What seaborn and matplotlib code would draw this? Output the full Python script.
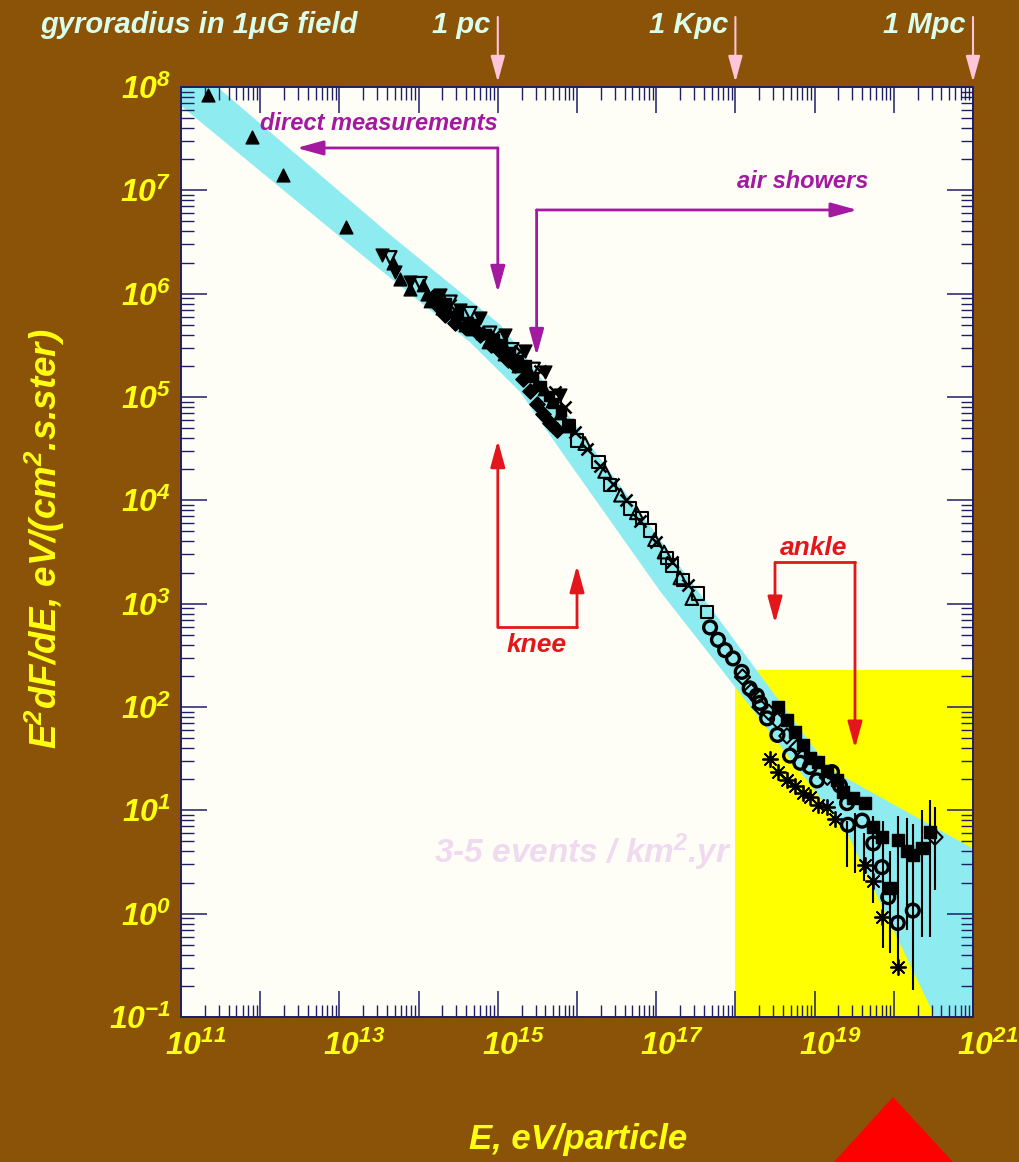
import numpy as np
import matplotlib
matplotlib.use("Agg")
import matplotlib.pyplot as plt
import seaborn as sns
from matplotlib import transforms
from matplotlib.patches import Polygon
from matplotlib.ticker import FixedLocator, LogLocator, NullFormatter, FuncFormatter

# ------------------------------------------------------------------
# Cosmic-ray all-particle spectrum.
# Every value is log10(E / eV) and log10(E^2 dF/dE / eV cm^-2 s^-1 sr^-1)
# ------------------------------------------------------------------
tri_up_logE = [11.34, 11.90, 12.29, 13.08, 13.68, 13.77, 13.89, 14.10, 14.30]
tri_up_logF = [7.92, 7.52, 7.15, 6.65, 6.30, 6.14, 6.05, 6.00, 5.86]

tri_down_logE = [13.54, 13.70, 13.89, 14.27, 14.52, 14.78, 15.09, 15.34, 15.60, 15.79]
tri_down_logF = [6.37, 6.21, 6.11, 5.99, 5.84, 5.76, 5.60, 5.45, 5.24, 5.02]

tri_down_open_logE = [13.64, 14.02, 14.40, 14.65, 14.90, 15.18, 15.45]
tri_down_open_logF = [6.35, 6.10, 5.92, 5.81, 5.62, 5.46, 5.27]

diamond_logE = [14.18, 14.23, 14.33, 14.46, 14.59, 14.78, 14.92, 15.03, 15.13,
                15.22, 15.32, 15.41, 15.50, 15.57, 15.66, 15.75]
diamond_logF = [5.97, 5.89, 5.79, 5.72, 5.68, 5.60, 5.50, 5.45, 5.36,
                5.31, 5.17, 5.06, 4.93, 4.84, 4.75, 4.68]

block_logE = [14.35, 14.50, 14.62, 14.70, 14.85, 14.95, 15.05, 15.15, 15.25,
              15.35, 15.45, 15.55, 15.65, 15.70, 15.80, 15.90]
block_logF = [5.91, 5.81, 5.73, 5.71, 5.61, 5.56, 5.51, 5.44, 5.36,
              5.31, 5.19, 5.11, 5.01, 4.94, 4.86, 4.74]

knee_up_logE = [14.05, 14.15, 14.25, 14.38, 14.48, 14.58, 14.68, 14.80, 14.88, 14.98,
                15.08, 15.18, 15.26, 15.38, 15.48, 15.58, 15.68, 15.78, 15.88]
knee_up_logF = [6.08, 5.93, 5.95, 5.82, 5.80, 5.70, 5.66, 5.62, 5.53, 5.52,
                5.42, 5.40, 5.30, 5.27, 5.13, 5.08, 4.96, 4.85, 4.72]

cross_logE = [14.40, 14.71, 14.96, 15.28, 15.53, 15.72, 15.85, 15.97, 16.12,
              16.29, 16.45, 16.62, 16.80, 17.00, 17.20, 17.40]
cross_logF = [5.89, 5.72, 5.60, 5.45, 5.25, 5.05, 4.90, 4.66, 4.50,
              4.33, 4.16, 4.00, 3.80, 3.60, 3.40, 3.18]

square_open_logE = [15.72, 15.90, 16.00, 16.27, 16.42, 16.67, 16.82, 16.92,
                    17.14, 17.20, 17.34, 17.53, 17.64]
square_open_logF = [4.97, 4.72, 4.58, 4.37, 4.15, 3.92, 3.83, 3.71,
                    3.44, 3.37, 3.23, 3.10, 2.92]

tri_up_open_logE = [16.10, 16.35, 16.55, 16.75, 16.98, 17.10, 17.30, 17.45]
tri_up_open_logF = [4.55, 4.28, 4.05, 3.88, 3.62, 3.50, 3.25, 3.05]

circle_logE = [17.68, 17.78, 17.87, 17.97, 18.08, 18.18, 18.27, 18.31, 18.40,
               18.53, 18.69, 18.82, 18.94, 19.03, 19.22, 19.32, 19.41, 19.42,
               19.60, 19.74, 19.85, 19.93, 20.05, 20.24]
circle_logF = [2.77, 2.65, 2.55, 2.47, 2.34, 2.18, 2.11, 2.04, 1.89,
               1.73, 1.53, 1.46, 1.42, 1.29, 1.37, 1.24, 1.07, 0.86,
               0.90, 0.68, 0.45, 0.16, -0.09, 0.03]

square_logE = [18.54, 18.65, 18.75, 18.85, 18.94, 19.04, 19.16, 19.28, 19.36,
               19.48, 19.64, 19.74, 19.85, 19.95, 20.05, 20.17, 20.24, 20.36, 20.46]
square_logF = [2.00, 1.87, 1.76, 1.63, 1.51, 1.47, 1.38, 1.29, 1.18,
               1.12, 1.07, 0.84, 0.74, 0.25, 0.71, 0.61, 0.57, 0.64, 0.79]

star_logE = [18.44, 18.54, 18.65, 18.75, 18.85, 18.94, 19.04, 19.16, 19.26,
             19.64, 19.74, 19.85, 20.05]
star_logF = [1.50, 1.37, 1.29, 1.24, 1.17, 1.13, 1.05, 1.03, 0.92,
             0.47, 0.32, -0.03, -0.52]

diamond_open_logE = [18.09, 18.20, 18.31, 18.42, 18.53, 18.65, 18.78, 19.16, 20.52]
diamond_open_logF = [2.29, 2.15, 2.00, 1.95, 1.87, 1.72, 1.61, 1.32, 0.74]

# error bars of the highest-energy points
err_logE = [19.41, 19.51, 19.62, 19.74, 19.86, 19.95, 20.05, 20.17, 20.24, 20.36, 20.46, 20.52]
err_hi = [0.90, 0.97, 0.78, 0.95, 0.90, 0.61, 0.95, 0.93, 0.87, 1.00, 1.10, 1.03]
err_lo = [0.45, 0.39, 0.32, 0.10, -0.33, -0.38, -0.53, -0.16, -0.74, -0.23, -0.23, 0.23]

# uncertainty band of the spectrum
band_upper_logE = [10.5, 11.46, 13.64, 15.03, 15.30, 16.20, 19.19, 21.0, 21.3]
band_upper_logF = [8.60, 8.00, 6.57, 5.70, 5.44, 4.50, 1.40, 0.63, 0.50]
band_lower_logE = [10.5, 10.95, 13.26, 14.65, 15.28, 15.85, 17.05, 18.02, 19.41,
                   20.24, 20.52, 20.9]
band_lower_logF = [8.15, 7.85, 6.39, 5.53, 5.05, 4.42, 3.12, 2.17, 0.78,
                   -0.55, -1.00, -1.70]

# region of 3-5 events per km^2 per year
rare_logE = [18.0, 21.0]
rare_top_logF = 2.36

# gyroradius of a proton in a 1 microgauss field
gyro_logE = [15, 18, 21]
gyro_labels = ["1 pc", "1 Kpc", "1 Mpc"]

# ------------------------------------------------------------------
BROWN = "#8A5308"
PLOT_BG = "#FEFEF7"
CYAN = "#8EEBF0"
YELLOW = "#FFFF00"
PURPLE = "#A3199F"
RED = "#E3161B"
PINK = "#FFC6DA"
MINT = "#D9FFEC"
FAINT = "#F0DAF0"
NAVY = "#1E1E66"
LABEL_YELLOW = "#FFFF10"

sns.set_theme(style="ticks")
FONT = "Liberation Sans"
plt.rcParams["font.family"] = [FONT, "DejaVu Sans"]
plt.rcParams["font.weight"] = "bold"
plt.rcParams["font.style"] = "italic"
plt.rcParams["axes.labelweight"] = "bold"
plt.rcParams["mathtext.fontset"] = "custom"
for key in ("rm", "it", "bf", "sf"):
    plt.rcParams[f"mathtext.{key}"] = f"{FONT}:italic:bold"

W, H = 1020, 1162
fig = plt.figure(figsize=(W / 100, H / 100), dpi=100, facecolor=BROWN)
ax = fig.add_axes([181 / W, 1 - 1017 / H, 792 / W, 930 / H])
ax.set_facecolor(PLOT_BG)
ax.set_xscale("log")
ax.set_yscale("log")
ax.set_xlim(1e11, 1e21)
ax.set_ylim(1e-1, 1e8)
ax.set_axisbelow(False)


def p10(v):
    return np.power(10.0, np.asarray(v, dtype=float))


# rare-event region and uncertainty band
ax.fill_between(p10(rare_logE), 1e-1, p10(rare_top_logF), color=YELLOW, lw=0, zorder=1.2)
band_x = np.concatenate([p10(band_upper_logE), p10(band_lower_logE)[::-1]])
band_y = np.concatenate([p10(band_upper_logF), p10(band_lower_logF)[::-1]])
ax.fill(band_x, band_y, color=CYAN, lw=0, zorder=1.5)

ax.text(p10(16.08), p10(0.59), r"3-5 events / km$^2$.yr", color=FAINT,
        fontsize=24, fontweight="bold", ha="center", va="center", zorder=1.8)


def scatter(logE, logF, marker, s, filled=True, lw=1.0):
    kw = dict(x=p10(logE), y=p10(logF), marker=marker, s=s, ax=ax,
              zorder=4, legend=False, linewidth=lw)
    if filled:
        kw.update(color="black", edgecolor="black")
    else:
        kw.update(facecolor="none", edgecolor="black")
    sns.scatterplot(**kw)


# error bars
ax.vlines(p10(err_logE), p10(err_lo), p10(err_hi), color="black", lw=1.5, zorder=3.5)

scatter(tri_up_logE, tri_up_logF, "^", 85)
scatter(tri_down_logE, tri_down_logF, "v", 85)
scatter(tri_down_open_logE, tri_down_open_logF, "v", 85, filled=False, lw=1.6)
scatter(knee_up_logE, knee_up_logF, "^", 80)
scatter(diamond_logE, diamond_logF, "D", 60)
scatter(block_logE, block_logF, "s", 55)
scatter(cross_logE, cross_logF, "x", 75, lw=1.8)
scatter(square_open_logE, square_open_logF, "s", 80, filled=False, lw=1.5)
scatter(tri_up_open_logE, tri_up_open_logF, "^", 85, filled=False, lw=1.5)
scatter(circle_logE, circle_logF, "o", 85, filled=False, lw=2.4)
scatter(square_logE, square_logF, "s", 70)
scatter(star_logE, star_logF, (8, 2, 0), 120, lw=1.3)
scatter(diamond_open_logE, diamond_open_logF, "D", 60, filled=False, lw=1.5)


# annotation arrows
def arrow(tail, tip, color, lw=2.0, target=None):
    ax.annotate("", xy=tip, xytext=tail, xycoords=target or "data",
                textcoords=target or "data",
                arrowprops=dict(arrowstyle="-|>,head_length=0.8,head_width=0.22",
                                color=color, lw=lw, shrinkA=0, shrinkB=0,
                                mutation_scale=20),
                annotation_clip=False, zorder=5)


# direct measurements
corner = (p10(15.0), p10(7.41))
arrow(corner, (p10(12.46), p10(7.41)), PURPLE)
arrow(corner, (p10(15.0), p10(6.01)), PURPLE)
ax.text(p10(12.0), p10(7.65), "direct measurements", color=PURPLE, fontsize=17,
        fontweight="bold", ha="left", va="center", zorder=5)

# air showers
corner = (p10(15.49), p10(6.81))
arrow(corner, (p10(19.54), p10(6.81)), PURPLE)
arrow(corner, (p10(15.49), p10(5.40)), PURPLE)
ax.text(p10(18.02), p10(7.09), "air showers", color=PURPLE, fontsize=17,
        fontweight="bold", ha="left", va="center", zorder=5)

# knee
ax.plot([p10(15.0), p10(16.0)], [p10(2.77), p10(2.77)], color=RED, lw=2.0, zorder=5)
arrow((p10(15.0), p10(2.77)), (p10(15.0), p10(4.58)), RED)
arrow((p10(16.0), p10(2.77)), (p10(16.0), p10(3.37)), RED)
ax.text(p10(15.49), p10(2.60), "knee", color=RED, fontsize=19, fontweight="bold",
        ha="center", va="center", zorder=5)

# ankle
ax.plot([p10(18.5), p10(19.51)], [p10(3.40), p10(3.40)], color=RED, lw=2.0, zorder=5)
arrow((p10(18.5), p10(3.40)), (p10(18.5), p10(2.81)), RED)
arrow((p10(19.51), p10(3.40)), (p10(19.51), p10(1.60)), RED)
ax.text(p10(18.99), p10(3.54), "ankle", color=RED, fontsize=19, fontweight="bold",
        ha="center", va="center", zorder=5)

# gyroradius scale above the frame
top = transforms.blended_transform_factory(ax.transData, fig.transFigure)
label_shift = transforms.ScaledTranslation(-0.07, 0, fig.dpi_scale_trans)
for le, lab in zip(gyro_logE, gyro_labels):
    arrow((p10(le), 1 - 17 / H), (p10(le), 1 - 82 / H), PINK, lw=1.5, target=top)
    fig.text(p10(le), 1 - 25 / H, lab, color=MINT, fontsize=21, fontweight="bold",
             ha="right", va="center", transform=top + label_shift)
fig.text(40 / W, 1 - 25 / H, "gyroradius in 1\u03bcG field", color=MINT, fontsize=21,
         fontweight="bold", ha="left", va="center")

# axes, ticks and labels
for sp in ax.spines.values():
    sp.set_color(NAVY)
    sp.set_linewidth(1.4)
    sp.set_zorder(6)

ax.xaxis.set_major_locator(FixedLocator(p10(np.arange(11, 22))))
ax.xaxis.set_minor_locator(LogLocator(base=10, subs=np.arange(2, 10), numticks=200))
ax.yaxis.set_major_locator(FixedLocator(p10(np.arange(-1, 9))))
ax.yaxis.set_minor_locator(LogLocator(base=10, subs=np.arange(2, 10), numticks=200))
ax.xaxis.set_minor_formatter(NullFormatter())
ax.yaxis.set_minor_formatter(NullFormatter())


def xfmt(v, pos):
    e = int(round(np.log10(v)))
    return f"$10^{{{e}}}$" if e % 2 == 1 else ""


def yfmt(v, pos):
    e = int(round(np.log10(v)))
    return f"$10^{{{e}}}$"


ax.xaxis.set_major_formatter(FuncFormatter(xfmt))
ax.yaxis.set_major_formatter(FuncFormatter(yfmt))
ax.tick_params(which="both", direction="in", top=True, right=True, color=NAVY,
               labelcolor=LABEL_YELLOW, zorder=6)
ax.tick_params(which="major", length=19, width=1.1, labelsize=23)
ax.tick_params(which="minor", length=9, width=1.0)
ax.tick_params(axis="x", which="major", pad=10)
ax.tick_params(axis="y", which="major", pad=7)

shift = transforms.ScaledTranslation(-0.16, 0, fig.dpi_scale_trans)
for lbl in ax.get_xticklabels():
    lbl.set_horizontalalignment("left")
    lbl.set_transform(lbl.get_transform() + shift)

ax.set_xlabel("E, eV/particle", color=LABEL_YELLOW, fontsize=25,
              fontweight="bold", va="center")
ax.xaxis.set_label_coords(0.501, -0.132)
ax.set_ylabel("E$^2$dF/dE, eV/(cm$^2$.s.ster)", color=LABEL_YELLOW, fontsize=26.5,
              fontweight="bold", va="center", ha="center")
ax.yaxis.set_label_coords(-0.172, 0.514)

# marker triangle below the frame
fig.patches.append(Polygon([(835 / W, 0.0), (893 / W, 1 - 1098 / H), (952 / W, 0.0)],
                           closed=True, transform=fig.transFigure, color="#FF0000",
                           zorder=0))

fig.savefig("out.png", dpi=100, facecolor=BROWN)
